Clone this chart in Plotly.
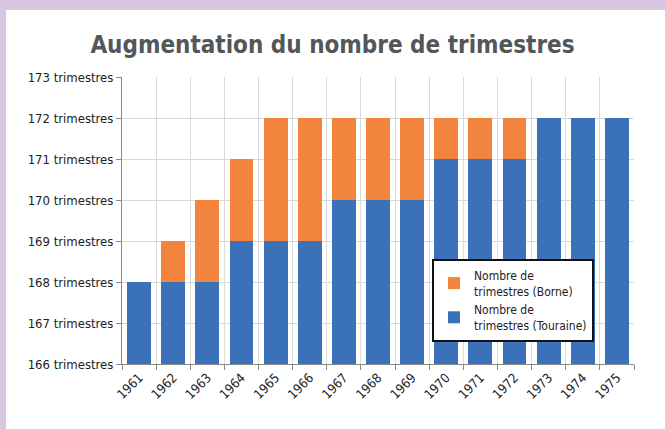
import plotly.graph_objects as go

years = [str(y) for y in range(1961, 1976)]
touraine = [168, 168, 168, 169, 169, 169, 170, 170, 170, 171, 171, 171, 172, 172, 172]
borne = [168, 169, 170, 171, 172, 172, 172, 172, 172, 172, 172, 172, 172, 172, 172]
extra = [b - t for b, t in zip(borne, touraine)]

FONT = "Liberation Sans Narrow, Arial Narrow, DejaVu Sans Condensed, sans-serif"
W, H = 665, 429
L, R, T, B = 122, 31, 77, 65
pw, ph = W - L - R, H - T - B

fig = go.Figure()
fig.add_trace(go.Bar(
    x=years, y=touraine, name="Nombre de<br>trimestres (Touraine)",
    marker=dict(color="#3a71b8", line=dict(width=0)),
))
fig.add_trace(go.Bar(
    x=years, y=[e if e else None for e in extra], name="Nombre de<br>trimestres (Borne)",
    marker=dict(color="#f2843e", line=dict(width=0)),
))

def px_x(p):
    return (p - L) / pw

def px_y(p):
    return (H - B - p) / ph

shapes = [
    dict(type="rect", xref="paper", yref="paper", x0=px_x(-5), x1=px_x(W + 5), y0=px_y(-5), y1=px_y(10),
         fillcolor="#d9c6e0", line=dict(width=0), layer="below"),
    dict(type="rect", xref="paper", yref="paper", x0=px_x(-5), x1=px_x(6), y0=px_y(-5), y1=px_y(H + 30),
         fillcolor="#d9c6e0", line=dict(width=0), layer="below"),
]

fig.update_layout(
    width=W, height=H,
    margin=dict(l=L, r=R, t=T, b=B),
    paper_bgcolor="white", plot_bgcolor="white",
    barmode="stack", bargap=0.3,
    font=dict(family=FONT, size=13, color="#222222"),
    title=dict(text="<b>Augmentation du nombre de trimestres</b>", x=0.5, xanchor="center",
               y=1 - 45 / H, yanchor="middle",
               font=dict(family=FONT, size=24, color="#54575a")),
    shapes=shapes,
    showlegend=True,
    legend=dict(x=px_x(432), y=px_y(259), xanchor="left", yanchor="top",
                bordercolor="#111111", borderwidth=2, bgcolor="white",
                traceorder="reversed", font=dict(family=FONT, size=12, color="#222222")),
    xaxis=dict(type="category", tickson="boundaries", showgrid=True, gridcolor="#d9d9d9",
               ticks="outside", ticklen=5, tickcolor="#888888", showline=True, linecolor="#888888",
               tickangle=-45, tickfont=dict(family=FONT, size=13, color="#222222")),
    yaxis=dict(range=[166, 173], dtick=1, ticksuffix=" trimestres", showgrid=True, gridcolor="#d9d9d9",
               ticks="outside", ticklen=5, tickcolor="#888888", showline=True, linecolor="#888888",
               zeroline=False, tickfont=dict(family=FONT, size=13, color="#222222")),
)

fig.write_html("out.html", config={"displayModeBar": False},
               post_script="document.body.style.margin='0';document.body.style.overflow='hidden';")
